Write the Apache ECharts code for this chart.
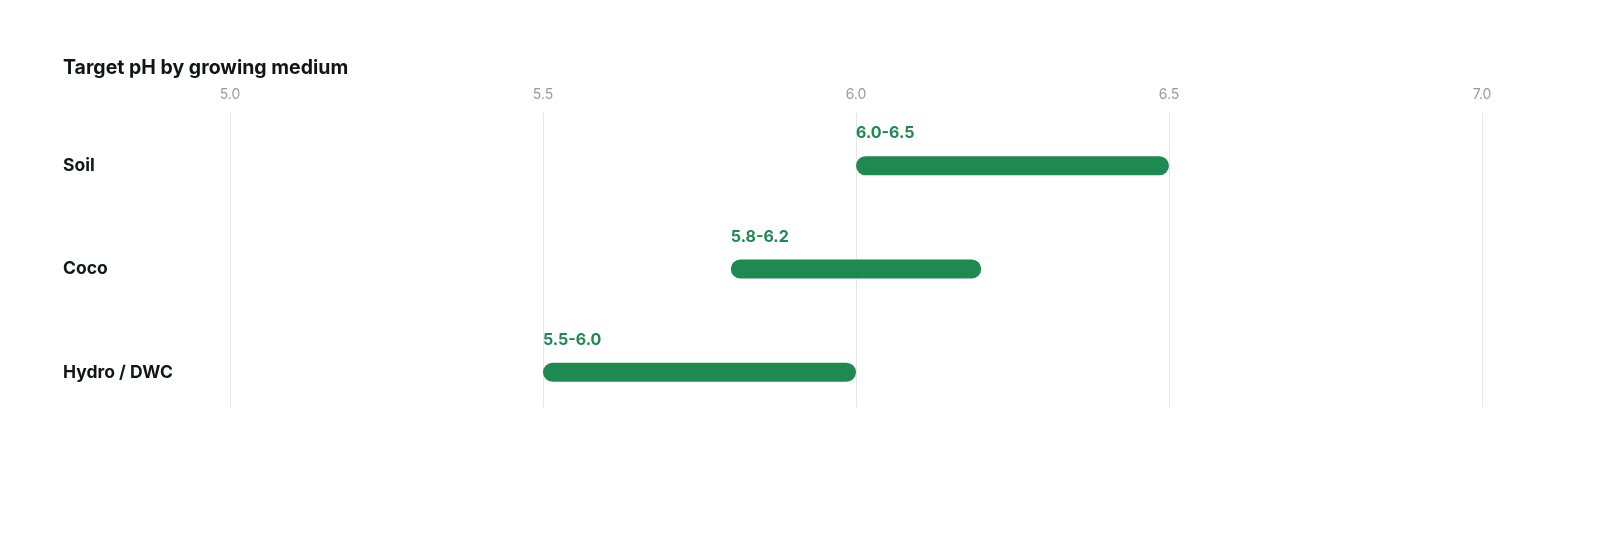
<!DOCTYPE html>
<html>
<head>
<meta charset="utf-8">
<script src="https://cdn.jsdelivr.net/npm/echarts@6/dist/echarts.min.js"></script>
<style>
html,body{margin:0;padding:0;background:#fff;}
#chart{width:1600px;height:560px;}
</style>
</head>
<body>
<div id="chart"></div>
<script>
const categories = ['Soil', 'Coco', 'Hydro / DWC'];
const lowValues = [6.0, 5.8, 5.5];
const highValues = [6.5, 6.2, 6.0];
const xTicks = [5.0, 5.5, 6.0, 6.5, 7.0];

const GREEN = '#1e8a52';
const FONT = 'Inter, "Noto Sans", sans-serif';

const chart = echarts.init(document.getElementById('chart'));
const data = categories.map((c, i) => [lowValues[i], highValues[i], i]);

chart.setOption({
  animation: false,
  backgroundColor: '#ffffff',
  title: {
    text: 'Target pH by growing medium',
    left: 58, top: 53,
    textStyle: { fontFamily: FONT, fontSize: 19.5, fontWeight: 700, color: '#111418' }
  },
  grid: [
    { left: 230, right: 118, top: 113, height: 294 },
    { left: 230, right: 118, top: 114, height: 310 }
  ],
  xAxis: [
    {
      gridIndex: 0, type: 'value', position: 'top',
      min: xTicks[0], max: xTicks[xTicks.length - 1], interval: 0.5,
      axisLine: { show: false }, axisTick: { show: false },
      axisLabel: { color: '#9a9a9a', fontFamily: FONT, fontSize: 14, margin: 11,
        formatter: v => v.toFixed(1) },
      splitLine: { show: true, lineStyle: { color: '#e6e6e6', width: 1 } }
    },
    {
      gridIndex: 1, type: 'value',
      min: xTicks[0], max: xTicks[xTicks.length - 1],
      show: false
    }
  ],
  yAxis: [
    { gridIndex: 0, type: 'category', data: categories, show: false },
    {
      gridIndex: 1, type: 'category', data: categories, inverse: true,
      axisLine: { show: false }, axisTick: { show: false }, splitLine: { show: false },
      axisLabel: { align: 'left', margin: 167, color: '#111418', fontFamily: FONT,
        fontSize: 17.5, fontWeight: 700 }
    }
  ],
  series: [{
    type: 'custom',
    xAxisIndex: 1, yAxisIndex: 1,
    data: data,
    encode: { x: [0, 1], y: 2 },
    renderItem: function (params, api) {
      const lo = api.value(0), hi = api.value(1), idx = api.value(2);
      const p0 = api.coord([lo, idx]);
      const p1 = api.coord([hi, idx]);
      const h = 19;
      return {
        type: 'group',
        children: [
          {
            type: 'rect',
            shape: { x: p0[0], y: p0[1] - h / 2, width: p1[0] - p0[0], height: h, r: h / 2 },
            style: { fill: GREEN }
          },
          {
            type: 'text',
            style: {
              x: p0[0], y: p0[1] - 32,
              text: lo.toFixed(1) + '-' + hi.toFixed(1),
              fill: GREEN, font: '700 16px ' + FONT,
              textAlign: 'left', textVerticalAlign: 'middle'
            }
          }
        ]
      };
    }
  }]
});
</script>
</body>
</html>
